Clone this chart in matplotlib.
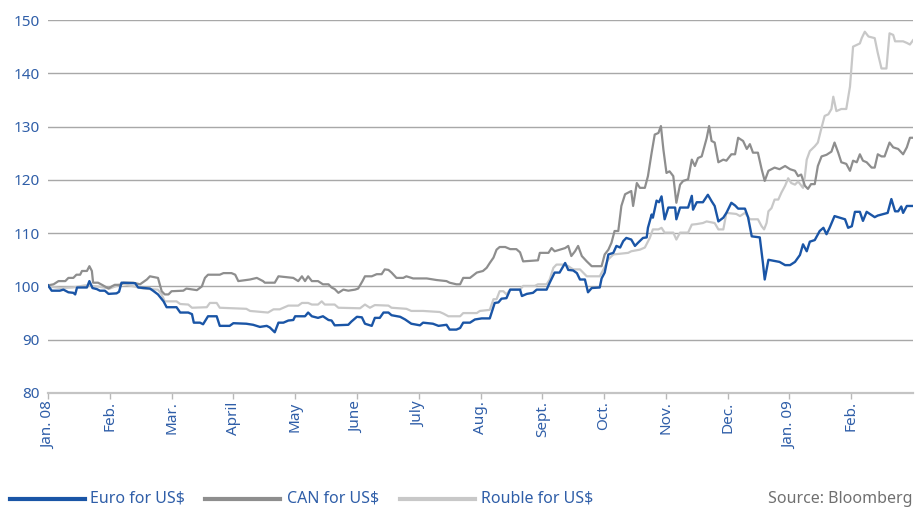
import matplotlib
matplotlib.use("Agg")
import matplotlib.pyplot as plt
from matplotlib.lines import Line2D

months = ['Jan. 08', 'Feb.', 'Mar.', 'April', 'May', 'June', 'July', 'Aug.',
          'Sept.', 'Oct.', 'Nov.', 'Dec.', 'Jan. 09', 'Feb.']
yticks = [80, 90, 100, 110, 120, 130, 140, 150]

euro_pos = [0.0, 0.06, 0.19, 0.25, 0.33, 0.41, 0.44, 0.47, 0.63, 0.67, 0.72, 0.79, 0.84, 0.92, 0.98,
            1.11, 1.15, 1.19, 1.41, 1.46, 1.65, 1.70, 1.78, 1.87, 1.92, 2.08, 2.14, 2.27, 2.33, 2.36,
            2.46, 2.51, 2.59, 2.73, 2.78, 2.94, 3.0, 3.21, 3.32, 3.43, 3.54, 3.59, 3.67, 3.73, 3.81,
            3.89, 3.97, 4.0, 4.16, 4.21, 4.27, 4.37, 4.45, 4.54, 4.59, 4.64, 4.86, 4.91, 5.0, 5.08,
            5.13, 5.24, 5.29, 5.37, 5.43, 5.51, 5.56, 5.70, 5.78, 5.88, 6.02, 6.07, 6.23, 6.32, 6.45,
            6.50, 6.61, 6.67, 6.72, 6.83, 6.91, 7.02, 7.15, 7.23, 7.29, 7.34, 7.42, 7.48, 7.64, 7.67,
            7.75, 7.85, 7.91, 8.07, 8.12, 8.20, 8.28, 8.37, 8.42, 8.50, 8.56, 8.61, 8.69, 8.74, 8.80,
            8.93, 8.96, 9.01, 9.07, 9.15, 9.20, 9.26, 9.31, 9.36, 9.44, 9.50, 9.55, 9.63, 9.69, 9.71,
            9.77, 9.79, 9.85, 9.89, 9.93, 9.98, 10.04, 10.15, 10.17, 10.23, 10.36, 10.42, 10.44, 10.50,
            10.60, 10.68, 10.74, 10.79, 10.85, 10.93, 10.98, 11.06, 11.12, 11.17, 11.28, 11.33, 11.39,
            11.52, 11.57, 11.60, 11.66, 11.84, 11.93, 12.01, 12.09, 12.17, 12.22, 12.28, 12.33, 12.41,
            12.49, 12.55, 12.60, 12.65, 12.73, 12.90, 12.95, 13.01, 13.06, 13.14, 13.19, 13.25, 13.38,
            13.43, 13.59, 13.65, 13.71, 13.76, 13.81, 13.84, 13.90, 14.0]
euro_val = [100.2, 99.2, 99.2, 99.4, 98.9, 98.8, 98.5, 99.8, 99.8, 101.0, 99.7, 99.5, 99.2, 99.2, 98.6,
            98.7, 99.0, 100.7, 100.6, 99.8, 99.6, 99.2, 98.5, 97.2, 96.1, 96.1, 95.1, 95.1, 94.8, 93.2,
            93.2, 92.9, 94.4, 94.4, 92.6, 92.6, 93.1, 93.0, 92.8, 92.4, 92.6, 92.3, 91.4, 93.2, 93.2,
            93.6, 93.7, 94.4, 94.4, 95.1, 94.4, 94.1, 94.4, 93.7, 93.6, 92.7, 92.8, 93.4, 94.3, 94.2,
            93.0, 92.6, 94.1, 94.1, 95.1, 95.1, 94.6, 94.3, 93.8, 93.0, 92.7, 93.2, 93.0, 92.6, 92.8,
            91.9, 91.9, 92.2, 93.2, 93.2, 93.8, 94.0, 94.0, 96.9, 97.0, 97.7, 97.8, 99.4, 99.4, 98.2,
            98.6, 98.8, 99.4, 99.4, 100.7, 102.6, 102.6, 104.4, 103.1, 103.0, 102.5, 101.3, 101.3, 98.9, 99.7,
            99.8, 101.5, 102.6, 106.0, 106.3, 107.6, 107.3, 108.5, 109.1, 108.8, 107.6, 108.2, 109.1, 109.2, 111.0,
            113.5, 112.9, 116.1, 115.8, 116.9, 112.6, 114.8, 114.8, 112.6, 114.8, 114.8, 117.0, 114.4, 115.8,
            115.8, 117.2, 116.0, 115.1, 112.2, 112.9, 113.8, 115.7, 115.2, 114.6, 114.6, 113.0, 109.4,
            109.2, 104.5, 101.3, 105.0, 104.6, 104.0, 104.0, 104.6, 105.9, 107.9, 106.6, 108.4, 108.7,
            110.4, 111.0, 109.8, 111.0, 113.2, 112.6, 111.0, 111.3, 114.0, 114.0, 112.3, 114.0, 113.0,
            113.3, 113.8, 116.4, 114.1, 114.1, 115.0, 113.8, 115.1, 115.1]

can_pos = [0.0, 0.09, 0.17, 0.28, 0.33, 0.41, 0.46, 0.52, 0.55, 0.63, 0.67, 0.71, 0.73, 0.81, 0.89,
           0.98, 1.03, 1.08, 1.17, 1.22, 1.38, 1.49, 1.60, 1.65, 1.78, 1.84, 1.89, 1.95, 2.0, 2.19,
           2.24, 2.41, 2.49, 2.54, 2.59, 2.78, 2.84, 2.97, 3.03, 3.08, 3.27, 3.38, 3.48, 3.51, 3.67,
           3.73, 3.97, 4.05, 4.11, 4.16, 4.21, 4.27, 4.37, 4.45, 4.54, 4.59, 4.64, 4.70, 4.78, 4.86,
           4.97, 5.02, 5.09, 5.13, 5.24, 5.32, 5.40, 5.45, 5.51, 5.56, 5.64, 5.75, 5.80, 5.91, 6.13,
           6.29, 6.45, 6.50, 6.61, 6.67, 6.72, 6.83, 6.94, 7.04, 7.10, 7.15, 7.21, 7.26, 7.31, 7.40,
           7.48, 7.58, 7.64, 7.69, 7.93, 7.96, 8.10, 8.15, 8.20, 8.37, 8.42, 8.47, 8.53, 8.58, 8.64,
           8.72, 8.80, 8.96, 9.01, 9.07, 9.12, 9.17, 9.23, 9.28, 9.34, 9.44, 9.47, 9.53, 9.58, 9.66,
           9.71, 9.77, 9.82, 9.88, 9.92, 9.96, 10.01, 10.06, 10.12, 10.17, 10.23, 10.28, 10.36, 10.42,
           10.47, 10.52, 10.58, 10.66, 10.70, 10.74, 10.79, 10.85, 10.93, 10.98, 11.06, 11.12, 11.17,
           11.25, 11.31, 11.36, 11.41, 11.49, 11.55, 11.60, 11.66, 11.76, 11.84, 11.93, 12.01, 12.09,
           12.14, 12.19, 12.25, 12.30, 12.35, 12.41, 12.46, 12.52, 12.60, 12.68, 12.73, 12.79, 12.84,
           12.92, 12.98, 13.03, 13.09, 13.14, 13.19, 13.25, 13.33, 13.38, 13.43, 13.49, 13.54, 13.62,
           13.68, 13.76, 13.84, 13.90, 13.95, 14.0]
can_val = [100.2, 100.4, 101.0, 101.0, 101.6, 101.6, 102.2, 102.2, 102.9, 102.9, 103.8, 102.9, 100.7, 100.7, 100.2,
           99.6, 100.0, 100.3, 100.3, 100.7, 100.7, 100.4, 101.3, 101.9, 101.6, 99.1, 98.5, 98.5, 99.1, 99.2,
           99.6, 99.3, 100.0, 101.6, 102.2, 102.2, 102.5, 102.5, 102.2, 101.0, 101.3, 101.6, 101.0, 100.7, 100.7,
           101.9, 101.6, 101.0, 101.9, 101.0, 101.9, 101.0, 101.0, 100.4, 100.4, 99.8, 99.5, 98.8, 99.4, 99.2,
           99.4, 99.6, 101.0, 101.9, 101.9, 102.3, 102.3, 103.2, 103.1, 102.6, 101.6, 101.6, 101.9, 101.5, 101.5,
           101.2, 101.0, 100.7, 100.4, 100.4, 101.6, 101.6, 102.6, 102.9, 103.5, 104.4, 105.4, 106.9, 107.4, 107.4,
           107.0, 107.0, 106.4, 104.7, 104.9, 106.3, 106.3, 107.2, 106.6, 107.2, 107.6, 105.7, 106.6, 107.6, 105.7,
           104.7, 103.8, 103.8, 106.0, 106.9, 108.2, 110.4, 110.4, 115.1, 117.3, 117.9, 115.1, 119.4, 118.5, 118.5,
           120.7, 125.1, 128.5, 128.8, 130.1, 125.7, 121.3, 121.6, 120.7, 115.7, 119.1, 119.8, 120.1, 123.8,
           122.6, 124.1, 124.4, 127.8, 130.1, 127.3, 127.0, 123.3, 123.8, 123.6, 124.8, 124.8, 127.9,
           127.3, 125.8, 126.7, 125.1, 125.1, 122.0, 119.8, 121.7, 122.3, 122.0, 122.6, 122.0, 121.7,
           120.7, 121.0, 118.9, 118.3, 119.2, 119.2, 122.6, 124.4, 124.7, 125.3, 127.0, 125.1, 123.3,
           123.0, 121.7, 123.6, 123.3, 124.8, 123.6, 123.3, 122.3, 122.3, 124.8, 124.4, 124.4, 127.0,
           126.1, 125.8, 124.8, 126.1, 127.9, 127.9]

rub_pos = [0.0, 0.2, 0.4, 0.6, 0.8, 1.0, 1.2, 1.54, 1.78, 1.84, 1.89, 2.08, 2.14, 2.27, 2.33,
           2.57, 2.62, 2.73, 2.78, 3.21, 3.27, 3.56, 3.65, 3.75, 3.81, 3.89, 4.05, 4.11, 4.21, 4.27,
           4.37, 4.43, 4.48, 4.64, 4.70, 5.05, 5.13, 5.21, 5.29, 5.51, 5.56, 5.80, 5.88, 6.07, 6.34,
           6.40, 6.48, 6.67, 6.72, 6.94, 6.99, 7.15, 7.21, 7.26, 7.31, 7.37, 7.42, 7.48, 7.64, 7.69,
           7.88, 7.93, 8.07, 8.12, 8.18, 8.23, 8.37, 8.42, 8.50, 8.61, 8.66, 8.72, 8.93, 8.99, 9.07,
           9.15, 9.39, 9.44, 9.58, 9.66, 9.74, 9.79, 9.88, 9.93, 9.98, 10.12, 10.17, 10.23, 10.36,
           10.42, 10.50, 10.60, 10.66, 10.79, 10.85, 10.93, 10.98, 11.14, 11.20, 11.28, 11.36, 11.49,
           11.55, 11.59, 11.63, 11.66, 11.71, 11.76, 11.82, 11.87, 11.93, 11.98, 12.03, 12.09, 12.14,
           12.22, 12.25, 12.28, 12.33, 12.41, 12.46, 12.52, 12.57, 12.63, 12.68, 12.71, 12.76, 12.84,
           12.92, 12.98, 13.03, 13.14, 13.17, 13.22, 13.28, 13.38, 13.43, 13.49, 13.57, 13.62, 13.68,
           13.71, 13.84, 13.90, 13.95, 14.0]
rub_val = [100.0, 99.7, 99.8, 100.2, 100.0, 99.6, 100.5, 99.6, 99.4, 98.5, 97.2, 97.2, 96.7, 96.6, 96.0,
           96.1, 96.9, 96.9, 96.0, 95.8, 95.4, 95.1, 95.7, 95.7, 96.0, 96.4, 96.4, 96.9, 96.9, 96.6,
           96.6, 97.2, 96.6, 96.6, 96.0, 95.9, 96.6, 96.0, 96.5, 96.4, 96.0, 95.8, 95.4, 95.4, 95.2,
           94.9, 94.4, 94.4, 95.0, 95.0, 95.4, 95.6, 97.6, 97.6, 99.1, 99.1, 98.5, 99.4, 99.4, 100.1,
           100.1, 100.4, 100.4, 101.3, 103.5, 104.1, 104.1, 103.8, 103.2, 103.2, 102.6, 101.9, 101.9, 103.2, 105.1,
           106.0, 106.3, 106.6, 106.9, 107.3, 109.1, 110.7, 110.7, 111.0, 110.1, 110.1, 108.8, 110.1, 110.1,
           111.6, 111.7, 111.9, 112.2, 111.9, 110.7, 110.7, 113.8, 113.6, 113.2, 113.8, 112.6, 112.6,
           111.3, 110.7, 111.9, 114.1, 114.7, 116.3, 116.3, 117.6, 118.9, 120.3, 119.4, 119.1, 119.7,
           118.5, 120.7, 123.8, 125.4, 126.3, 127.0, 129.8, 132.0, 132.3, 133.3, 135.6, 132.9, 133.3,
           133.3, 137.5, 145.0, 145.6, 146.6, 147.8, 146.9, 146.6, 143.8, 140.9, 140.9, 147.5, 147.2,
           146.0, 146.0, 145.7, 145.4, 146.2]

BLUE = '#1a55a6'
DARK = '#8e8e8e'
LIGHT = '#c8c8c8'
TXT = '#2f5ea8'

W, H = 924, 508
fig = plt.figure(figsize=(W / 100, H / 100), dpi=100)
ax = fig.add_axes([48 / W, 1 - 393 / H, (913 - 48) / W, (393 - 20) / H])

ax.plot(rub_pos, rub_val, color=LIGHT, lw=1.6, zorder=3)
ax.plot(can_pos, can_val, color=DARK, lw=1.6, zorder=4)
ax.plot(euro_pos, euro_val, color=BLUE, lw=1.7, zorder=5)

ax.set_xlim(0, 14)
ax.set_ylim(80, 150)
ax.set_yticks(yticks)
ax.set_xticks(range(len(months)))
ax.set_xticklabels(months, rotation=90, fontsize=11, color=TXT, family='Noto Sans')
for lab in ax.get_yticklabels():
    lab.set_family('Noto Sans')
ax.tick_params(axis='y', length=0, labelsize=11, labelcolor=TXT, pad=6)
ax.tick_params(axis='x', length=4, width=1, color='#b8b8b8', pad=2)
ax.grid(axis='y', color='#a8a8a8', lw=1.0)
ax.set_axisbelow(True)
for s in ['top', 'right', 'left']:
    ax.spines[s].set_visible(False)
ax.spines['bottom'].set_color('#c4c4c4')
ax.spines['bottom'].set_linewidth(1.6)
ax.spines['bottom'].set_zorder(6)

ly = 1 - 499 / H
legend = [(10, 85, 90, BLUE, 'Euro for US$'),
          (205, 280, 287, DARK, 'CAN for US$'),
          (400, 475, 481, LIGHT, 'Rouble for US$')]
for x0, x1, tx, c, t in legend:
    fig.add_artist(Line2D([x0 / W, x1 / W], [ly, ly], color=c, lw=3, transform=fig.transFigure))
    fig.text(tx / W, ly, t, color=TXT, fontsize=11.5, va='center', ha='left', family='Noto Sans')
fig.text(913 / W, ly, 'Source: Bloomberg', color='#707070', fontsize=11.5, va='center', ha='right',
         family='Noto Sans')

fig.savefig('out.png', dpi=100)
